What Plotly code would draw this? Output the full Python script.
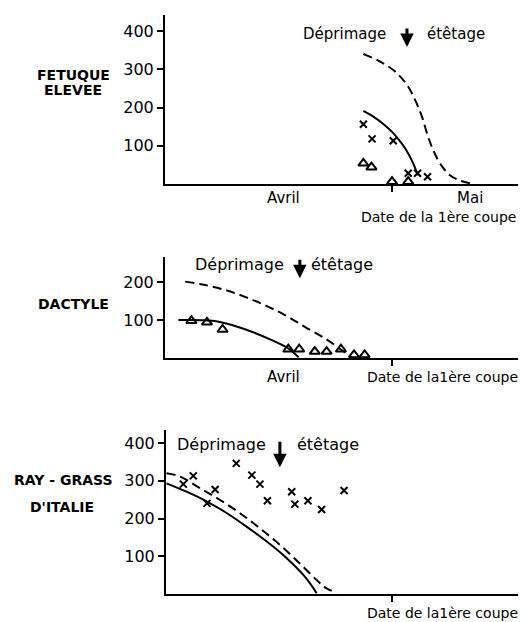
import plotly.graph_objects as go

# x: jours depuis le 1er avril ; y: valeurs
# --- FETUQUE ELEVEE ---
fe_solid_x = [12.9, 14.5, 16.1, 17.7, 19.05, 20.1, 20.9, 21.45, 21.7]
fe_solid_y = [191, 176, 157, 133, 106, 80, 54, 32, 23]
fe_dash_x = [12.9, 15.6, 18.0, 19.9, 21.2, 22.3, 23.2, 24.1, 25.2, 26.8, 28.4, 30.0]
fe_dash_y = [340, 320, 294, 259, 220, 176, 128, 89, 54, 23, 9, 2]
fe_cross_x = [12.9, 14.3, 17.7, 20.1, 21.6, 23.2]
fe_cross_y = [156, 118, 113, 28, 28, 19]
fe_tri_x = [12.9, 14.2, 17.5, 20.1]
fe_tri_y = [54, 44, 6, 6]

# --- DACTYLE ---
da_solid_x = [-16.8, -11.4, -8.2, -5.0, -1.8, 0.85, 2.5]
da_solid_y = [100, 98, 87, 69, 47, 25, 2]
da_dash_x = [-15.7, -12.5, -9.3, -6.1, -2.9, 0.3, 3.5, 6.7, 9.4, 11.0]
da_dash_y = [201, 192, 179, 161, 139, 113, 82, 52, 21, 2]
da_tri_x = [-14.7, -12.2, -9.7, 0.85, 2.6, 5.1, 7.0, 9.3, 11.4, 13.1]
da_tri_y = [98, 94, 75, 23, 23, 17, 17, 23, 8, 8]

# --- RAY-GRASS D'ITALIE ---
rg_solid_x = [-18.7, -15.5, -12.2, -9.0, -5.8, -2.6, 0.6, 3.3, 4.9, 5.4]
rg_solid_y = [293, 271, 245, 214, 178, 139, 95, 50, 15, 2]
rg_dash_x = [-18.7, -16.5, -13.3, -10.1, -6.9, -3.7, -0.5, 2.7, 5.4, 7.0, 8.6]
rg_dash_y = [320, 311, 280, 249, 214, 174, 130, 81, 37, 15, 3]
rg_cross_x = [-16.0, -14.4, -10.9, -12.2, -7.5, -5.0, -3.7, -2.5, 1.4, 1.9, 4.0, 6.2, 9.8]
rg_cross_y = [291, 313, 277, 240, 346, 315, 291, 247, 271, 238, 247, 224, 274]

tick_x = [17.5]
month_labels = ["Avril", "Mai"]
month_pos = [0, 30]

W, H = 528, 622
PXD = 6.23  # px per day
X0 = 283    # pixel of day 0


def xr(px_left, px_right):
    return [(px_left - X0) / PXD, (px_right - X0) / PXD]


FONT = "DejaVu Sans"
fig = go.Figure()

dash_style = "9px,5px"


def add_panel(i, solid, dash, cross=None, tri=None):
    xa = "x" if i == 1 else f"x{i}"
    ya = "y" if i == 1 else f"y{i}"
    fig.add_trace(go.Scatter(x=solid[0], y=solid[1], mode="lines", line=dict(color="black", width=2, shape="spline", smoothing=1),
                             xaxis=xa, yaxis=ya, showlegend=False, cliponaxis=False, hoverinfo="skip"))
    fig.add_trace(go.Scatter(x=dash[0], y=dash[1], mode="lines", line=dict(color="black", width=2, shape="spline", smoothing=1, dash=dash_style),
                             xaxis=xa, yaxis=ya, showlegend=False, cliponaxis=False, hoverinfo="skip"))
    if cross is not None:
        fig.add_trace(go.Scatter(x=cross[0], y=cross[1], mode="markers",
                                 marker=dict(symbol="x-thin", size=7, line=dict(color="black", width=2)),
                                 xaxis=xa, yaxis=ya, showlegend=False, cliponaxis=False, hoverinfo="skip"))
    if tri is not None:
        fig.add_trace(go.Scatter(x=tri[0], y=tri[1], mode="markers",
                                 marker=dict(symbol="triangle-up-open", size=9, color="black", line=dict(color="black", width=2)),
                                 xaxis=xa, yaxis=ya, showlegend=False, cliponaxis=False, hoverinfo="skip"))


add_panel(1, (fe_solid_x, fe_solid_y), (fe_dash_x, fe_dash_y), (fe_cross_x, fe_cross_y), (fe_tri_x, fe_tri_y))
add_panel(2, (da_solid_x, da_solid_y), (da_dash_x, da_dash_y), None, (da_tri_x, da_tri_y))
add_panel(3, (rg_solid_x, rg_solid_y), (rg_dash_x, rg_dash_y), (rg_cross_x, rg_cross_y), None)


def ydom(py_bottom, py_top):
    return [1 - py_bottom / H, 1 - py_top / H]


common_x = dict(showline=True, linecolor="black", linewidth=2, showgrid=False, zeroline=False,
                tickvals=tick_x, ticktext=[""], ticks="outside", ticklen=6, tickwidth=1.5, tickcolor="black")
common_y = dict(showline=True, linecolor="black", linewidth=2, showgrid=False, zeroline=False,
                ticks="outside", ticklen=6, tickwidth=1.5, tickcolor="black",
                tickfont=dict(family=FONT, size=16, color="black"))

fig.update_layout(
    width=W, height=H, margin=dict(l=0, r=0, t=0, b=0),
    paper_bgcolor="white", plot_bgcolor="white",
    xaxis=dict(domain=[165 / W, 518 / W], range=xr(165, 518), anchor="y", **common_x),
    yaxis=dict(domain=ydom(184, 15), range=[0, (184 - 15) / 0.3825], anchor="x", tickvals=[100, 200, 300, 400], **common_y),
    xaxis2=dict(domain=[165 / W, 518 / W], range=xr(165, 518), anchor="y2", **common_x),
    yaxis2=dict(domain=ydom(358, 257), range=[0, (358 - 257) / 0.38], anchor="x2", tickvals=[100, 200], **common_y),
    xaxis3=dict(domain=[166 / W, 518 / W], range=xr(166, 518), anchor="y3", **common_x),
    yaxis3=dict(domain=ydom(594, 430), range=[0, (594 - 430) / 0.3775], anchor="x3", tickvals=[100, 200, 300, 400], **common_y),
)

ann = []


def txt(text, xp, yp, size=15, bold=False, xanchor="center"):
    ann.append(dict(text=f"<b>{text}</b>" if bold else text, x=xp / W, y=1 - yp / H, xref="paper", yref="paper",
                    showarrow=False, xanchor=xanchor, yanchor="middle",
                    font=dict(family=FONT, size=size, color="black")))


# category labels
txt("FETUQUE", 73, 75, 14, True)
txt("ELEVEE", 73, 90, 14, True)
txt("DACTYLE", 73, 304, 14, True)
txt("RAY - GRASS", 63, 480, 14, True)
txt("D'ITALIE", 62, 507, 14, True)

# month labels via x-axis data
for lab, pos in zip(month_labels, month_pos):
    ann.append(dict(text=lab, x=pos, y=0, xref="x", yref="y", yshift=-14, showarrow=False,
                    font=dict(family=FONT, size=15, color="black")))
ann.append(dict(text=month_labels[0], x=month_pos[0], y=0, xref="x2", yref="y2", yshift=-19, showarrow=False,
                font=dict(family=FONT, size=15, color="black")))

txt("Date de la 1ère coupe", 518, 217, 14, xanchor="right")
txt("Date de la1ère coupe", 520, 377, 14, xanchor="right")
txt("Date de la1ère coupe", 520, 613, 14, xanchor="right")

# Déprimage / étêtage with arrows
arrows = [
    # (xref, yref, textsize, x_right_dep, x_left_ete, y_text, arrow_x, arrow_tip_y, ay)
    ("x", "y", 15, 16.9, 22.8, 392, 19.9, 358, -20),
    ("x2", "y2", 16, 0.5, 4.2, 245, 2.7, 210, -20),
    ("x3", "y3", 16, -2.4, 1.9, 395, -0.5, 336, -27),
]
for xref, yref, sz, xd, xe, yt, axx, tipy, ay in arrows:
    ann.append(dict(text="Déprimage", x=xd, y=yt, xref=xref, yref=yref, showarrow=False, xanchor="right",
                    yanchor="middle", font=dict(family=FONT, size=sz, color="black")))
    ann.append(dict(text="étêtage", x=xe, y=yt, xref=xref, yref=yref, showarrow=False, xanchor="left",
                    yanchor="middle", font=dict(family=FONT, size=sz, color="black")))
    ann.append(dict(text="", x=axx, y=tipy, xref=xref, yref=yref, showarrow=True, ax=0, ay=ay,
                    arrowhead=2, arrowsize=0.9, arrowwidth=3, arrowcolor="black", standoff=0))

fig.update_layout(annotations=ann, hovermode=False)
fig.write_html("out.html", config={"displayModeBar": False},
               post_script="document.body.style.margin='0px';document.body.style.overflow='hidden';")
